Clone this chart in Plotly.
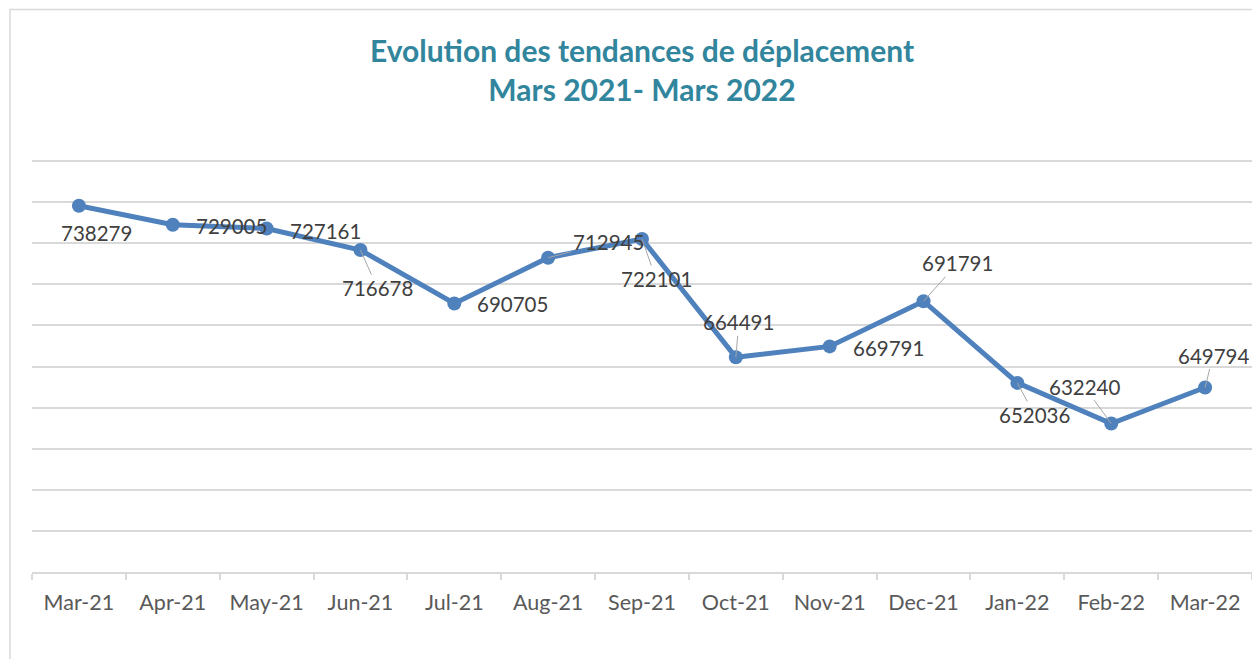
import plotly.graph_objects as go

# ---- data ----
months = ["Mar-21", "Apr-21", "May-21", "Jun-21", "Jul-21", "Aug-21", "Sep-21",
          "Oct-21", "Nov-21", "Dec-21", "Jan-22", "Feb-22", "Mar-22"]
trips = [738279, 729005, 727161, 716678, 690705, 712945, 722101,
         664491, 669791, 691791, 652036, 632240, 649794]

title_line1 = "Evolution des tendances de déplacement"
title_line2 = "Mars 2021- Mars 2022"

# ---- label placement (pixel offsets from the point, Excel-like) ----
label_offsets = [(18, 27, False), (59, 1, False), (59, 2, False), (17, 38, True),
                 (58, 1, False), (60, -16, True), (14, 40, True), (3, -35, True),
                 (59, 2, False), (34, -38, True), (17, 32, True), (-27, -37, True),
                 (8, -32, True)]

LINE_COLOR = "#4F81BD"
GRID = "#D9D9D9"
FONT = "Lato"

fig = go.Figure()
fig.add_trace(go.Scatter(
    x=months, y=trips, mode="lines+markers",
    line=dict(color=LINE_COLOR, width=5),
    marker=dict(color=LINE_COLOR, size=14),
    hoverinfo="x+y", showlegend=False,
))

annotations = []
for m, v, (dx, dy, leader) in zip(months, trips, label_offsets):
    a = dict(x=m, y=v, xref="x", yref="y", text=str(v),
             font=dict(family=FONT, size=20.5, color="#404040"))
    if leader:
        a.update(showarrow=True, arrowhead=0, arrowwidth=1, arrowcolor="#A6A6A6",
                 ax=dx, ay=dy, axref="pixel", ayref="pixel")
    else:
        a.update(showarrow=False, xshift=dx, yshift=-dy)
    annotations.append(a)

# the page body adds an 8 px margin, so the figure is 8 px smaller
W, H = 1252, 651
fig.update_layout(
    width=W, height=H,
    margin=dict(l=24, r=8, t=151, b=87),
    paper_bgcolor="white", plot_bgcolor="white",
    title=dict(text=f"{title_line1}<br>{title_line2}", x=0.5, xref="paper",
               y=1 - 54 / H, yref="container", yanchor="middle",
               font=dict(family=FONT, size=30, color="#31859C", weight="bold")),
    annotations=annotations,
    shapes=[dict(type="rect", xref="paper", yref="paper",
                 x0=-0.018, x1=1.2, y0=-0.6, y1=1.362,
                 line=dict(color=GRID, width=1.5), fillcolor="rgba(0,0,0,0)",
                 layer="below")],
    xaxis=dict(type="category", range=[-0.5, len(months) - 0.5],
               tickson="boundaries", ticks="outside", ticklen=6,
               tickcolor=GRID, tickwidth=1.5, showline=True, linecolor=GRID,
               linewidth=1.5, showgrid=False, zeroline=False, ticklabelstandoff=10,
               tickfont=dict(family=FONT, size=21.5, color="#595959")),
    yaxis=dict(range=[560000, 761000], dtick=20000, tick0=560000,
               showticklabels=False, gridcolor=GRID, gridwidth=1.5,
               zeroline=False, showline=False, ticks=""),
)

fig.write_html("out.html")
